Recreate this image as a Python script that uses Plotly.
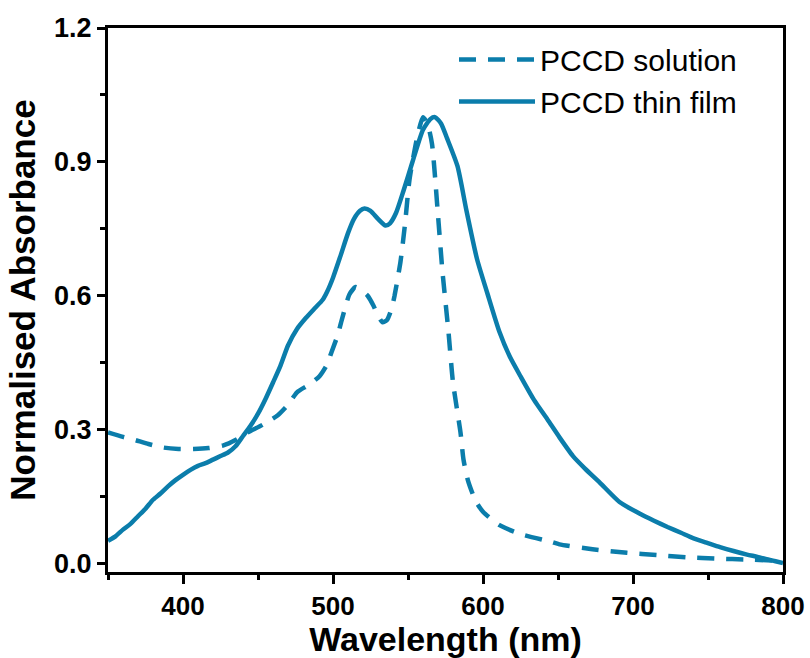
import plotly.graph_objects as go

# PCCD thin film (solid)
film_nm = [350, 355, 360, 365, 370, 375, 380, 385, 390, 395, 400, 405, 410, 415, 420, 425, 430, 435,
           440, 445, 450, 455, 460, 465, 470, 476, 482, 488, 493, 496, 500, 505, 510, 514, 518, 521,
           525, 530, 535, 538, 542, 547, 553, 560, 565, 568, 572, 576, 583, 589, 596, 603, 611, 618,
           625, 634, 643, 651, 660, 668, 678, 691, 705, 714, 723, 732, 740, 749, 758, 767, 776, 783,
           790, 795, 800]
film_abs = [0.050, 0.060, 0.075, 0.088, 0.105, 0.122, 0.142, 0.156, 0.172, 0.186, 0.198, 0.209, 0.218,
            0.224, 0.232, 0.240, 0.248, 0.262, 0.285, 0.308, 0.335, 0.368, 0.405, 0.443, 0.488, 0.525,
            0.550, 0.572, 0.590, 0.608, 0.640, 0.689, 0.740, 0.772, 0.790, 0.795, 0.790, 0.772, 0.757,
            0.762, 0.785, 0.835, 0.900, 0.972, 0.996, 1.000, 0.986, 0.953, 0.890, 0.790, 0.682, 0.604,
            0.518, 0.462, 0.419, 0.366, 0.322, 0.282, 0.240, 0.212, 0.180, 0.137, 0.110, 0.095, 0.081,
            0.068, 0.056, 0.046, 0.036, 0.027, 0.019, 0.014, 0.008, 0.004, 0.000]

# PCCD solution (dashed)
sol_nm = [350, 360, 367, 377, 387, 397, 407, 417, 427, 435, 443, 453, 463, 470, 476, 484, 491, 496,
          499, 503, 506, 511, 515, 519, 523, 527, 530, 533, 536, 539, 541, 545, 548, 551, 556, 560,
          563, 566, 570, 573, 577, 580, 585, 587, 590, 595, 600, 611, 625, 645, 651, 673, 696, 716,
          736, 756, 776, 800]
sol_abs = [0.293, 0.283, 0.277, 0.267, 0.259, 0.256, 0.256, 0.258, 0.264, 0.276, 0.293, 0.310, 0.331,
           0.355, 0.383, 0.400, 0.419, 0.445, 0.473, 0.510, 0.547, 0.603, 0.619, 0.612, 0.600, 0.577,
           0.555, 0.540, 0.545, 0.570, 0.599, 0.676, 0.760, 0.860, 0.953, 1.000, 0.985, 0.940, 0.780,
           0.653, 0.518, 0.405, 0.293, 0.232, 0.185, 0.140, 0.115, 0.085, 0.065, 0.048, 0.042, 0.031,
           0.023, 0.018, 0.013, 0.010, 0.008, 0.005]

x_ticks = [400, 500, 600, 700, 800]
y_ticks = [0.0, 0.3, 0.6, 0.9, 1.2]
y_tick_text = ["0.0", "0.3", "0.6", "0.9", "1.2"]

color = "#0B7DAB"
font_bold = "Liberation Sans, Arial, sans-serif"

fig = go.Figure()
fig.add_trace(go.Scatter(x=sol_nm, y=sol_abs, mode="lines", name="PCCD solution",
                         line=dict(color=color, width=4.5, dash="17px,12px", shape="spline", smoothing=0.6)))
fig.add_trace(go.Scatter(x=film_nm, y=film_abs, mode="lines", name="PCCD thin film",
                         line=dict(color=color, width=4.5, shape="spline", smoothing=0.6)))

fig.update_layout(
    width=810, height=658,
    margin=dict(l=108, r=27, t=28, b=86, autoexpand=False),
    paper_bgcolor="white", plot_bgcolor="white",
    font=dict(family=font_bold, color="black"),
    showlegend=True,
    legend=dict(x=0.5126, y=0.99, xanchor="left", yanchor="top",
                bgcolor="rgba(0,0,0,0)", borderwidth=0,
                font=dict(family="Liberation Sans, Arial, sans-serif", size=30, color="black"),
                itemwidth=76, tracegroupgap=0),
    xaxis=dict(
        range=[350, 800], tickvals=x_ticks, ticktext=[str(v) for v in x_ticks],
        showgrid=False, zeroline=False, automargin=False,
        showline=True, linecolor="black", linewidth=3, mirror=True,
        ticks="outside", ticklen=9, tickwidth=2.5, tickcolor="black",
        minor=dict(ticks="outside", ticklen=5, tickwidth=2.5, tickcolor="black", dtick=50, showgrid=False),
        tickfont=dict(family=font_bold, size=26, color="black", weight="bold"),
        title=dict(text="<b>Wavelength (nm)</b>", font=dict(family=font_bold, size=34, color="black"),
                   standoff=4),
    ),
    yaxis=dict(
        range=[-0.02, 1.2], tickvals=y_ticks, ticktext=y_tick_text,
        showgrid=False, zeroline=False, automargin=False,
        showline=True, linecolor="black", linewidth=3, mirror=True,
        ticks="outside", ticklen=8, tickwidth=2.5, tickcolor="black",
        minor=dict(ticks="outside", ticklen=5, tickwidth=2.5, tickcolor="black", dtick=0.15, tick0=0,
                   showgrid=False),
        tickfont=dict(family=font_bold, size=27, color="black", weight="bold"),
        title=dict(text="<b>Normalised Absorbance</b>", font=dict(family=font_bold, size=35, color="black"),
                   standoff=8),
    ),
)

fig.write_html("out.html")
